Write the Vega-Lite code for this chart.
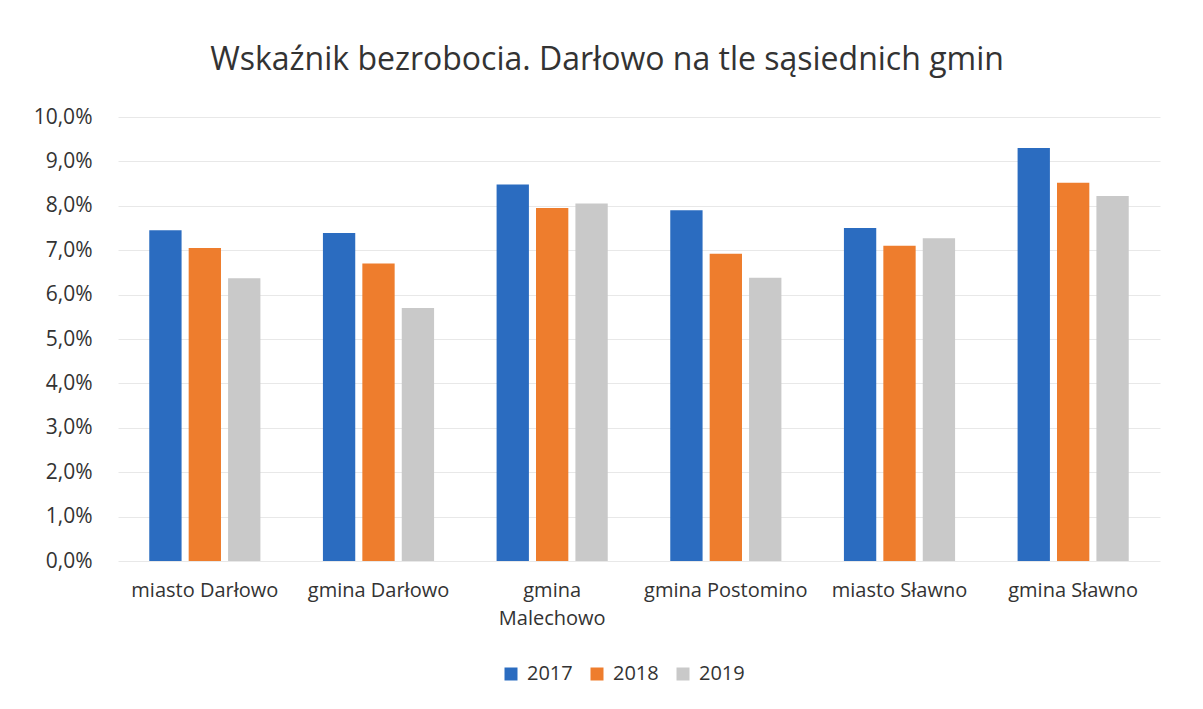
{
  "$schema": "https://vega.github.io/schema/vega-lite/v6.json",
  "autosize": {"type": "none"},
  "width": 1042,
  "height": 444,
  "padding": {"left": 118, "top": 117, "right": 43, "bottom": 148},
  "background": "white",
  "title": {
    "text": "Wskaźnik bezrobocia. Darłowo na tle sąsiednich gmin",
    "font": "Open Sans",
    "fontSize": 32,
    "fontWeight": "normal",
    "color": "#333333",
    "anchor": "middle",
    "dx": -32,
    "offset": 29
  },
  "data": {
    "values": [
      {"gmina": "miasto Darłowo", "rok": "2017", "stopa": 7.45},
      {"gmina": "miasto Darłowo", "rok": "2018", "stopa": 7.05},
      {"gmina": "miasto Darłowo", "rok": "2019", "stopa": 6.37},
      {"gmina": "gmina Darłowo", "rok": "2017", "stopa": 7.39},
      {"gmina": "gmina Darłowo", "rok": "2018", "stopa": 6.7},
      {"gmina": "gmina Darłowo", "rok": "2019", "stopa": 5.7},
      {"gmina": "gmina Malechowo", "rok": "2017", "stopa": 8.48},
      {"gmina": "gmina Malechowo", "rok": "2018", "stopa": 7.95},
      {"gmina": "gmina Malechowo", "rok": "2019", "stopa": 8.05},
      {"gmina": "gmina Postomino", "rok": "2017", "stopa": 7.9},
      {"gmina": "gmina Postomino", "rok": "2018", "stopa": 6.92},
      {"gmina": "gmina Postomino", "rok": "2019", "stopa": 6.38},
      {"gmina": "miasto Sławno", "rok": "2017", "stopa": 7.5},
      {"gmina": "miasto Sławno", "rok": "2018", "stopa": 7.1},
      {"gmina": "miasto Sławno", "rok": "2019", "stopa": 7.27},
      {"gmina": "gmina Sławno", "rok": "2017", "stopa": 9.3},
      {"gmina": "gmina Sławno", "rok": "2018", "stopa": 8.52},
      {"gmina": "gmina Sławno", "rok": "2019", "stopa": 8.22}
    ]
  },
  "mark": {"type": "bar"},
  "encoding": {
    "x": {
      "field": "gmina",
      "type": "nominal",
      "sort": null,
      "title": null,
      "scale": {"paddingInner": 0.36, "paddingOuter": 0.18},
      "axis": {
        "labelAngle": 0,
        "labelFont": "Open Sans",
        "labelFontSize": 20,
        "labelColor": "#333333",
        "labelPadding": 19,
        "labelLineHeight": 28,
        "ticks": false,
        "domain": false,
        "labelLimit": 300,
        "labelExpr": "datum.value == 'gmina Malechowo' ? ['gmina', 'Malechowo'] : datum.value"
      }
    },
    "xOffset": {"field": "rok", "type": "nominal", "scale": {"paddingInner": 0.18}},
    "y": {
      "field": "stopa",
      "type": "quantitative",
      "title": null,
      "scale": {"domain": [0, 10], "nice": false},
      "axis": {
        "values": [0, 1, 2, 3, 4, 5, 6, 7, 8, 9, 10],
        "labelExpr": "replace(format(datum.value, '.1f'), '.', ',') + '%'",
        "labelFont": "Open Sans",
        "labelFontSize": 21,
        "labelColor": "#333333",
        "labelPadding": 26,
        "ticks": false,
        "domain": false,
        "grid": true,
        "gridColor": "#e8e8e8",
        "gridWidth": 1
      }
    },
    "color": {
      "field": "rok",
      "type": "nominal",
      "title": null,
      "scale": {"domain": ["2017", "2018", "2019"], "range": ["#2b6cc0", "#ee7d2d", "#c9c9c9"]},
      "legend": {
        "orient": "none",
        "legendX": 383,
        "legendY": 547,
        "direction": "horizontal",
        "symbolType": "square",
        "symbolSize": 169,
        "symbolStrokeWidth": 0,
        "labelFont": "Open Sans",
        "labelFontSize": 20,
        "labelColor": "#333333",
        "labelOffset": 6,
        "columnPadding": 14
      }
    }
  },
  "config": {"view": {"stroke": null}}
}
